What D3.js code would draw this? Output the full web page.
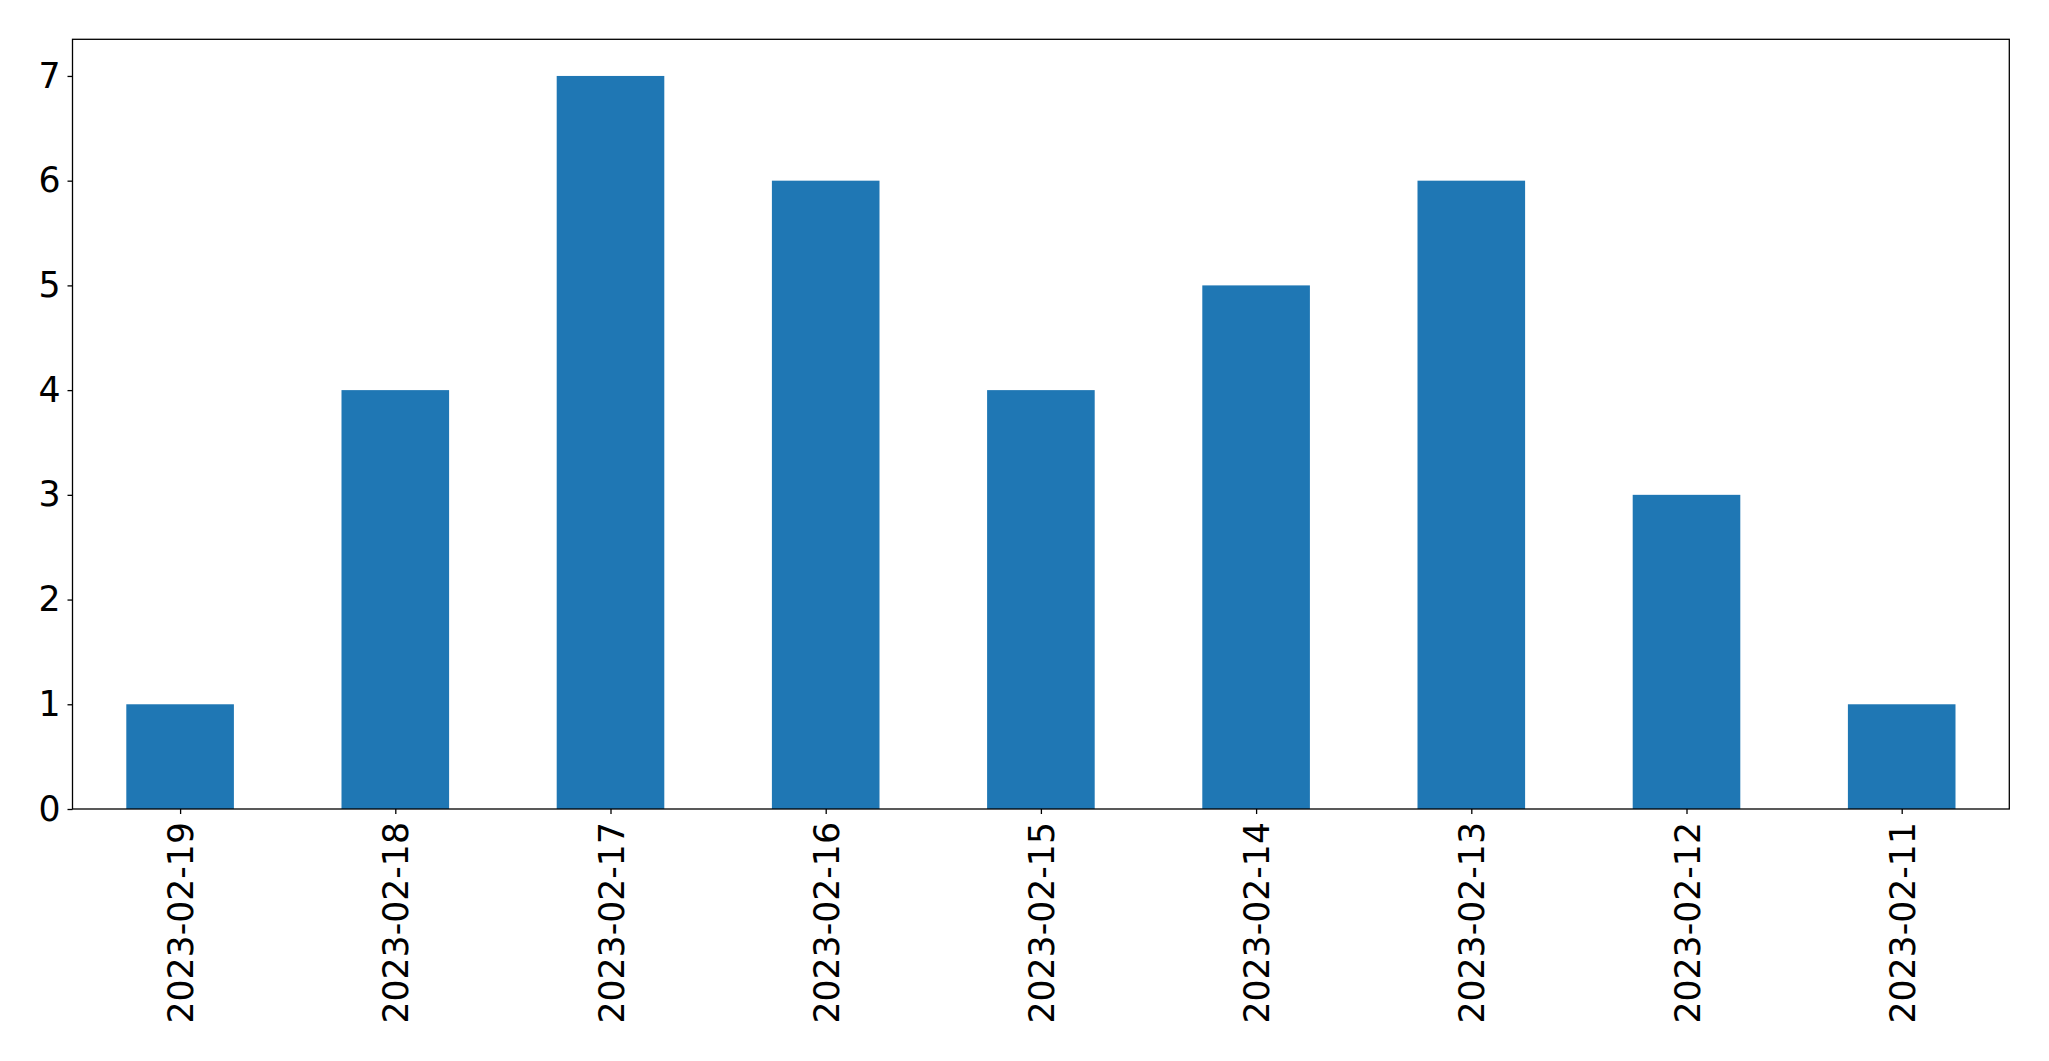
<!DOCTYPE html>
<html><head><meta charset="utf-8">
<script src="https://cdn.jsdelivr.net/npm/d3@7"></script>
<style>body{margin:0;background:#fff}svg{display:block}text{font-family:"DejaVu Sans",sans-serif}</style>
</head><body>
<script>
const categories = ["2023-02-19","2023-02-18","2023-02-17","2023-02-16","2023-02-15","2023-02-14","2023-02-13","2023-02-12","2023-02-11"];
const values = [1,4,7,6,4,5,6,3,1];
const yTicks = [0,1,2,3,4,5,6,7];

const W = 2049, H = 1061;
const L = 72.5, R = 2009.3, T = 39.3, B = 809;
const svg = d3.select("body").append("svg").attr("width", W).attr("height", H);

const x = d3.scaleLinear().domain([-0.5, categories.length - 0.5]).range([L, R]);
const y = d3.scaleLinear().domain([0, 7.35]).range([B, T]);

svg.append("g").selectAll("rect").data(values).join("rect")
  .attr("x", (d,i) => x(i - 0.25)).attr("width", (d,i) => x(i + 0.25) - x(i - 0.25))
  .attr("y", d => y(d)).attr("height", d => y(0) - y(d))
  .attr("fill", "#1f77b4");

const fs = 34.7;
const xAxis = svg.append("g").attr("transform", `translate(0,${B})`)
  .call(d3.axisBottom(x).tickValues(d3.range(categories.length)).tickFormat(i => categories[i]).tickSize(5).tickSizeOuter(0));
xAxis.select(".domain").remove();
xAxis.selectAll("line").attr("stroke", "#000").attr("stroke-width", 1.3);
xAxis.selectAll("text").attr("font-size", fs).attr("fill", "#000")
  .attr("text-anchor", "end").attr("transform", "rotate(-90)")
  .attr("x", -13).attr("y", 0).attr("dy", "0.36em");

const yAxis = svg.append("g").attr("transform", `translate(${L},0)`)
  .call(d3.axisLeft(y).tickValues(yTicks).tickFormat(d3.format("d")).tickSize(5).tickPadding(7));
yAxis.select(".domain").remove();
yAxis.selectAll("line").attr("stroke", "#000").attr("stroke-width", 1.3);
yAxis.selectAll("text").attr("font-size", fs).attr("fill", "#000");

svg.append("rect").attr("x", L).attr("y", T).attr("width", R - L).attr("height", B - T)
  .attr("fill", "none").attr("stroke", "#000").attr("stroke-width", 1.3);
</script>
</body></html>
